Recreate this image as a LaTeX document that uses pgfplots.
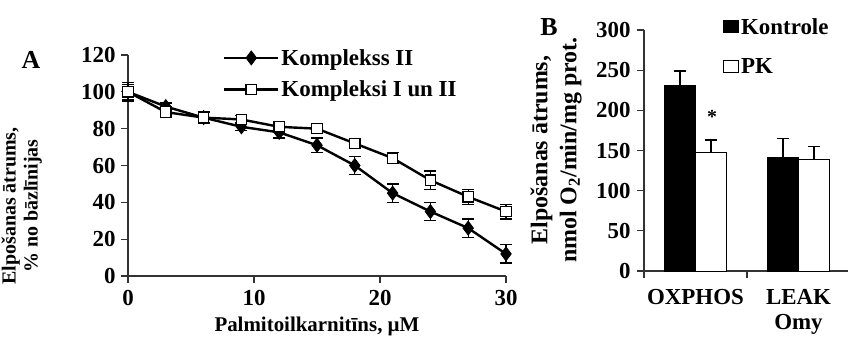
\documentclass[border=0pt]{standalone}
\usepackage{fontspec}
\setmainfont{Liberation Serif}
\usepackage{pgfplots}
\pgfplotsset{compat=1.18}

\pgfplotstableread{
x y e
0 100 4
3 92 2
6 86 3
9 81 2
12 78 3
15 71 4
18 60 5
21 45 5
24 35 5
27 26 5
30 12 5
}\kompII

\pgfplotstableread{
x y e
0 100 5
3 89 3
6 86 3
9 85 2
12 81 2
15 80 2
18 72 2
21 64 3
24 52 5
27 43 4
30 35 4
}\kompIun

\pgfplotstableread{
x y e
0 231 18
1 141 24
}\kontrole

\pgfplotstableread{
x y e
0 148 15
1 139 16
}\pk

\begin{document}
\begin{tikzpicture}
\pgfplotsset{
  every axis/.append style={
    scale only axis,
    font=\fontsize{23}{27}\selectfont\bfseries,
    axis line style={line width=1.2bp, black!80},
    tick style={line width=1.2bp, black!80},
    tick align=outside,
    major tick length=7bp,
    /pgf/number format/assume math mode=true,
    clip=false,
    axis x line*=bottom, axis y line*=left,
  }
}
% Panel A
\begin{axis}[
  at={(128bp,-276bp)}, anchor=south west,
  width=378bp, height=221bp,
  xmin=0, xmax=30, ymin=0, ymax=120,
  xtick={0,10,20,30}, ytick={0,20,40,60,80,100,120},
  xticklabel style={inner ysep=0pt, yshift=-7bp},
  yticklabel style={xshift=-2bp},
  xlabel={Palmitoilkarnitīns, µM},
  xlabel style={at={(axis description cs:0.50,-0.253)}, anchor=base, inner ysep=0pt, font=\fontsize{21}{24}\selectfont\bfseries},
  ylabel={Elpošanas ātrums,\\\% no bāzlīnijas},
  ylabel style={at={(axis description cs:-0.281,0.317)}, anchor=center, align=center, font=\fontsize{20}{22}\selectfont\bfseries},
  legend style={at={(axis description cs:0.251,1.036)}, anchor=north west, draw=none, fill=none, inner sep=0pt, row sep=10bp, font=\fontsize{23}{27}\selectfont\bfseries},
  legend cell align=left,
  legend image code/.code={\draw[mark repeat=2,mark phase=2,#1] plot coordinates {(0bp,0bp) (27bp,0bp) (54bp,0bp)};},
  error bars/error bar style={line width=1.3bp, black},
  error bars/error mark options={rotate=90, mark size=6bp, line width=1.3bp, black},
]
\addplot[line width=2.4bp, black, mark=diamond*, mark size=7bp, mark options={fill=black, solid, line width=0.8bp},
  error bars/.cd, y dir=both, y explicit]
  table[x=x, y=y, y error=e] {\kompII};
\addlegendentry{Komplekss II}
\addplot[line width=2.4bp, black, mark=square*, mark size=5.2bp, mark options={fill=white, draw=black, solid, line width=1.2bp},
  error bars/.cd, y dir=both, y explicit]
  table[x=x, y=y, y error=e] {\kompIun};
\addlegendentry{Kompleksi I un II}
\end{axis}
\node[font=\fontsize{26}{28}\selectfont\bfseries] at (31bp,-60bp) {A};

% Panel B
\begin{axis}[
  at={(644bp,-271bp)}, anchor=south west,
  width=206bp, height=241bp,
  xmin=-0.5, xmax=1.5, ymin=0, ymax=300,
  ybar=0pt, bar width=0.3,
  xtick={-0.5,0.5}, xticklabels={},
  extra x ticks={0,1},
  extra x tick labels={OXPHOS,{LEAK\\[-2bp]Omy}},
  extra x tick style={xtick style={draw=none}, xticklabel style={align=center, yshift=-8bp}},
  ytick={0,50,100,150,200,250,300},
  yticklabel style={xshift=-3bp},
  ylabel={Elpošanas ātrums,\\nmol O\textsubscript{2}/min/mg prot.},
  ylabel style={at={(axis description cs:-0.427,0.502)}, anchor=center, align=center, font=\fontsize{24}{29}\selectfont\bfseries},
  legend style={at={(axis description cs:0.383,1.058)}, anchor=north west, draw=none, fill=none, inner sep=0pt, row sep=19bp, font=\fontsize{23}{27}\selectfont\bfseries},
  legend cell align=left,
  error bars/error bar style={line width=1.3bp, black},
  error bars/error mark options={rotate=90, mark size=6bp, line width=1.3bp, black},
]
\addplot[fill=black, draw=black, line width=1bp,
  legend image code/.code={\draw[fill=black, draw=black] (0bp,-6bp) rectangle (15bp,6bp);},
  error bars/.cd, y dir=plus, y explicit]
  table[x=x, y=y, y error=e] {\kontrole};
\addlegendentry{Kontrole}
\addplot[fill=white, draw=black, line width=1bp,
  legend image code/.code={\draw[fill=white, draw=black, line width=1bp] (0bp,-6bp) rectangle (15bp,6bp);},
  error bars/.cd, y dir=plus, y explicit]
  table[x=x, y=y, y error=e] {\pk};
\addlegendentry{PK}
\node[font=\fontsize{20}{22}\selectfont\bfseries] at (axis cs:0.16,192) {*};
\end{axis}
\node[font=\fontsize{26}{28}\selectfont\bfseries] at (549bp,-27bp) {B};

\pgfresetboundingbox
\path[use as bounding box] (0bp,0bp) rectangle (848bp,-337bp);
\end{tikzpicture}
\end{document}
